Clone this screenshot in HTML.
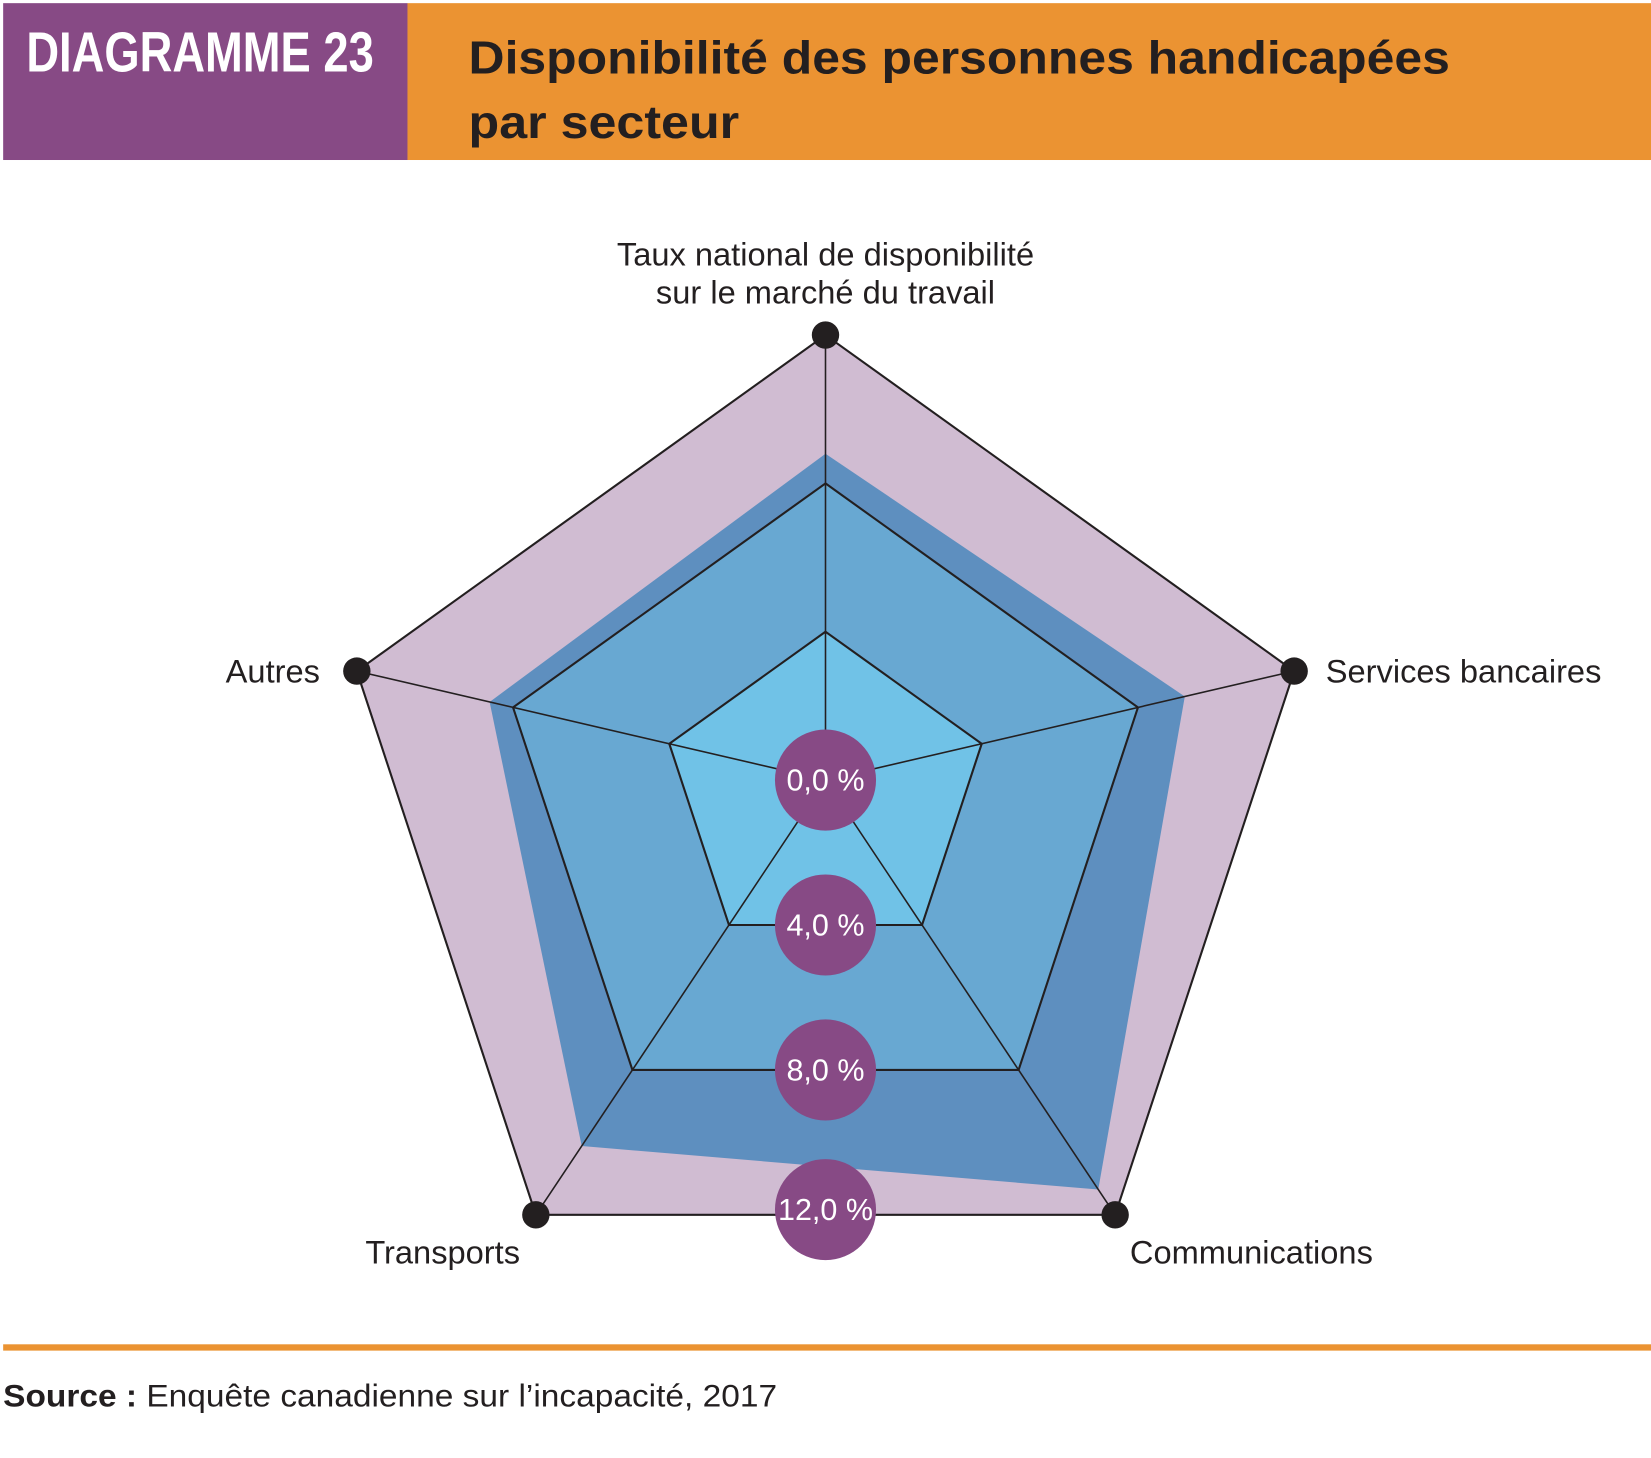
<!DOCTYPE html>
<html><head><meta charset="utf-8"><style>
html,body{margin:0;padding:0;background:#fff;}
svg{display:block;}
text{font-family:"Liberation Sans",sans-serif;}
</style></head><body>
<svg id="chart" width="1651" height="1458" viewBox="0 0 1568 1385" preserveAspectRatio="none" xmlns="http://www.w3.org/2000/svg">
<rect x="3" y="3" width="384" height="149" fill="#874a85"/>
<rect x="387" y="3" width="1181" height="149" fill="#eb9332"/>
<text x="25" y="68" fill="#fff" font-size="54" font-weight="bold" textLength="330" lengthAdjust="spacingAndGlyphs">DIAGRAMME 23</text>
<text x="445" y="70" fill="#231f20" font-size="44" font-weight="bold" textLength="932" lengthAdjust="spacingAndGlyphs">Disponibilité des personnes handicapées</text>
<text x="445" y="131" fill="#231f20" font-size="44" font-weight="bold" textLength="257" lengthAdjust="spacingAndGlyphs">par secteur</text>
<g id="radar"></g>
<rect x="3" y="1277" width="1565" height="6" fill="#eb9332"/>
<text x="3" y="1336" font-size="30" fill="#231f20" textLength="735" lengthAdjust="spacingAndGlyphs"><tspan font-weight="bold">Source :</tspan> Enquête canadienne sur l’incapacité, 2017</text>
</svg>
<script>
const axes = ["Taux national de disponibilité|sur le marché du travail","Services bancaires","Communications","Transports","Autres"];
const seriesValues = [8.8, 9.2, 11.3, 10.1, 8.6];
const ringValues = [4, 8, 12];
const ringLabels = ["4,0 %", "8,0 %", "12,0 %"];
const centerLabel = "0,0 %";

const NS = "http://www.w3.org/2000/svg";
const g = document.getElementById('radar');
const cx = 784, cy = 741, pxPerUnit = 38.5, drop = 0.085, kx = 1.013;
function pt(i, v){
  const th = i * 2 * Math.PI / axes.length;
  const r = v * pxPerUnit;
  return [cx + kx * r * Math.sin(th), cy + drop * r - r * Math.cos(th)];
}
function poly(v, vals){
  return axes.map((a,i)=>pt(i, vals ? vals[i] : v).join(',')).join(' ');
}
function mk(tag, attrs){
  const e = document.createElementNS(NS, tag);
  for (const k in attrs) e.setAttribute(k, attrs[k]);
  g.appendChild(e); return e;
}
const maxV = ringValues[ringValues.length-1];
let e;
e = mk('polygon', {points: poly(maxV), fill:'#d0bcd2'});


e = mk('polygon', {points: poly(0, seriesValues), fill:'#5e8fbf'});


e = mk('polygon', {points: poly(ringValues[1]), fill:'#68a8d2', stroke:'#231f20', 'stroke-width':2});


e = mk('polygon', {points: poly(ringValues[0]), fill:'#70c2e7', stroke:'#231f20', 'stroke-width':2});


e = mk('polygon', {points: poly(maxV), fill:'none', stroke:'#231f20', 'stroke-width':2});


axes.forEach((a,i)=>{
  const [x,y] = pt(i, maxV);
  const l = mk('line', {x1:cx, y1:cy, x2:x, y2:y, stroke:'#231f20', 'stroke-width':1.5});
  
  
});
axes.forEach((a,i)=>{
  const [x,y] = pt(i, maxV);
  const d = mk('circle', {cx:x, cy:y, r:13, fill:'#231f20'});
  
  
});
const labelPos = [
  {dx:0, dy:-66, anchor:'middle'},
  {dx:30, dy:11, anchor:'start'},
  {dx:14, dy:46, anchor:'start'},
  {dx:-15, dy:46, anchor:'end'},
  {dx:-35, dy:11, anchor:'end'}
];
axes.forEach((a,i)=>{
  const [x,y] = pt(i, maxV);
  const lines = a.split('|');
  lines.forEach((ln,j)=>{
    const t = mk('text', {x:x+labelPos[i].dx, y:y+labelPos[i].dy+j*36, 'text-anchor':labelPos[i].anchor, 'font-size':31, fill:'#231f20'});
    t.textContent = ln;
    
    
  });
});
function badge(x, y, txt){
  const c = mk('circle', {cx:x, cy:y, r:48, fill:'#874a85'});
  
  
  const t = mk('text', {x:x, y:y+10, 'text-anchor':'middle', 'font-size':29, fill:'#fff'});
  t.textContent = txt;
  
  
}
badge(cx, cy, centerLabel);
ringValues.forEach((v,k)=>{
  const y = pt(2, v)[1];
  badge(cx, y - (k===2 ? 5 : 0), ringLabels[k]);
});
</script>
</body></html>
